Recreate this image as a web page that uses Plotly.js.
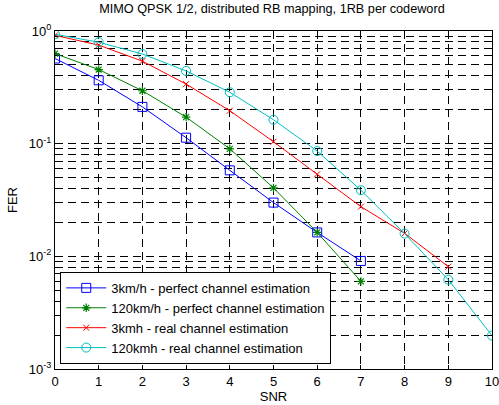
<!DOCTYPE html>
<html>
<head>
<meta charset="utf-8">
<script src="https://cdn.plot.ly/plotly-3.0.1.min.js"></script>
<style>html,body{margin:0;padding:0;background:#fff;}#chart{width:499px;height:405px;}</style>
</head>
<body>
<div id="chart"></div>
<script>
var snr = [0,1,2,3,4,5,6,7,8,9,10];
var fer3kmPerfect = [0.57,0.365,0.212,0.113,0.058,0.030,0.0163,0.0091];
var fer120kmPerfect = [0.63,0.455,0.295,0.172,0.090,0.0405,0.0163,0.0060];
var fer3kmReal = [0.915,0.75,0.54,0.338,0.196,0.104,0.0535,0.0276,0.016,0.0081];
var fer120kmReal = [0.935,0.795,0.625,0.442,0.286,0.163,0.086,0.0386,0.0159,0.0062,0.00198];
var seriesNames = ['3km/h - perfect channel estimation','120km/h - perfect channel estimation','3kmh - real channel estimation','120kmh - real channel estimation'];
var yTickVals = [0.001,0.01,0.1,1];
var yTickText = ['10<sup>-3</sup>','10<sup>-2</sup>','10<sup>-1</sup>','10<sup>0</sup>'];

var traces = [
  {x: snr.slice(0,fer3kmPerfect.length), y: fer3kmPerfect, name: seriesNames[0], mode:'lines+markers',
   line:{color:'#0000ff', width:1}, marker:{symbol:'square-open', size:9, color:'#0000ff', line:{width:1}}},
  {x: snr.slice(0,fer120kmPerfect.length), y: fer120kmPerfect, name: seriesNames[1], mode:'lines+markers',
   line:{color:'#008000', width:1}, marker:{symbol:'asterisk-open', size:7, color:'#008000', line:{width:1.2, color:'#008000'}}},
  {x: snr.slice(0,fer3kmReal.length), y: fer3kmReal, name: seriesNames[2], mode:'lines+markers',
   line:{color:'#ff0000', width:1}, marker:{symbol:'x-thin-open', size:6, color:'#ff0000', line:{width:1, color:'#ff0000'}}},
  {x: snr.slice(0,fer120kmReal.length), y: fer120kmReal, name: seriesNames[3], mode:'lines+markers',
   line:{color:'#00bfbf', width:1}, marker:{symbol:'circle-open', size:9, color:'#00bfbf', line:{width:1}}}
];

var gridDash = '8px,5px';
var layout = {
  width: 499, height: 405,
  margin: {l:55, r:7, t:31, b:36},
  paper_bgcolor:'#fff', plot_bgcolor:'#fff',
  font: {family:'Liberation Sans, Arial, sans-serif', size:13, color:'#000'},
  title: {text:'MIMO QPSK 1/2, distributed RB mapping, 1RB per codeword', x:0.545, xanchor:'center', y:0.99, yanchor:'top', font:{size:12.7}},
  showlegend: true,
  legend: {x:0.012, y:0.015, xanchor:'left', yanchor:'bottom', bgcolor:'#fff', bordercolor:'#000', borderwidth:1,
           font:{size:13}, itemwidth:40, tracegroupgap:0},
  xaxis: {range:[0,10], dtick:1, tick0:0, showline:true, linecolor:'#000', linewidth:1, mirror:'ticks',
          ticks:'inside', ticklen:4, tickcolor:'#000', showgrid:true, gridcolor:'#000', gridwidth:1, griddash:gridDash,
          zeroline:false, tickfont:{size:13}, ticklabeloverflow:'allow', title:{text:'SNR', font:{size:13}, standoff:1}},
  yaxis: {type:'log', range:[-3,0], tickvals:yTickVals, ticktext:yTickText, showline:true, linecolor:'#000', linewidth:1, mirror:'ticks',
          ticks:'inside', ticklen:4, tickcolor:'#000', showgrid:true, gridcolor:'#000', gridwidth:1, griddash:gridDash,
          zeroline:false, tickfont:{size:13}, title:{text:'FER', font:{size:13}, standoff:8},
          minor:{dtick:'D1', showgrid:true, gridcolor:'#000', gridwidth:1, griddash:gridDash, ticks:'inside', ticklen:2, tickcolor:'#000'}}
};
Plotly.newPlot('chart', traces, layout, {displayModeBar:false, staticPlot:true});
</script>
</body>
</html>
